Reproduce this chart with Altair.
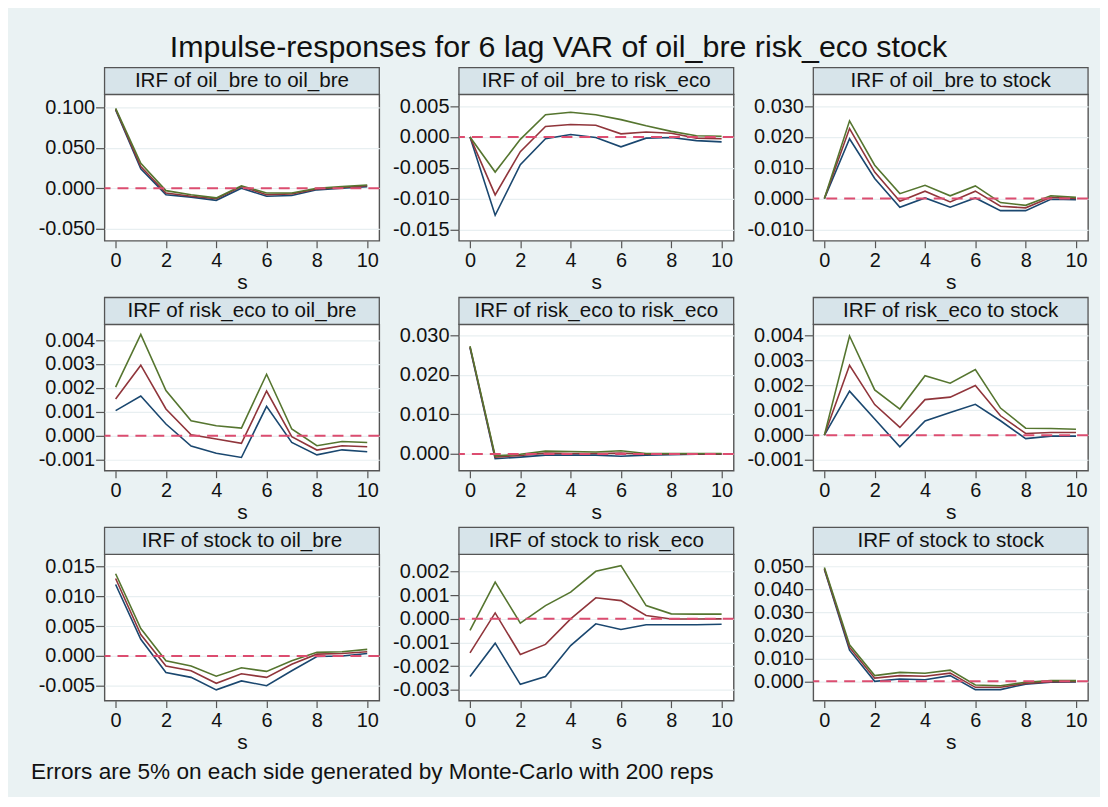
import altair as alt
import pandas as pd

steps = list(range(11))
bands = ["lower", "irf", "upper"]
band_colors = ["#1a476f", "#90353b", "#55752f"]

# IRF of oil_bre to oil_bre
p1_lo = [0.097, 0.024, -0.008, -0.011, -0.015, 0.000, -0.010, -0.009, -0.002, 0.000, 0.002]
p1_irf = [0.098, 0.027, -0.006, -0.010, -0.013, 0.002, -0.008, -0.007, -0.001, 0.001, 0.003]
p1_hi = [0.099, 0.031, -0.003, -0.008, -0.012, 0.003, -0.006, -0.006, 0.000, 0.002, 0.004]
# IRF of oil_bre to risk_eco
p2_lo = [0, -0.0127, -0.0045, -0.0003, 0.0004, -0.0001, -0.0016, -0.0002, -0.0001, -0.0006, -0.0008]
p2_irf = [0, -0.0094, -0.0024, 0.0017, 0.0020, 0.0019, 0.0005, 0.0008, 0.0006, -0.0002, -0.0003]
p2_hi = [0, -0.0057, -0.0004, 0.0036, 0.0040, 0.0036, 0.0028, 0.0018, 0.0009, 0.0002, 0.0001]
# IRF of oil_bre to stock
p3_lo = [0, 0.0194, 0.0065, -0.0028, 0.0002, -0.0028, 0.0002, -0.0039, -0.0039, -0.0002, -0.0004]
p3_irf = [0, 0.0227, 0.0086, -0.0009, 0.0024, -0.0011, 0.0024, -0.0025, -0.0030, 0.0004, 0.0000]
p3_hi = [0, 0.0252, 0.0108, 0.0016, 0.0043, 0.0009, 0.0041, -0.0013, -0.0022, 0.0009, 0.0004]
# IRF of risk_eco to oil_bre
p4_lo = [0.00105, 0.00166, 0.00049, -0.00043, -0.00073, -0.00091, 0.00123, -0.00028, -0.00080, -0.00059, -0.00067]
p4_irf = [0.00154, 0.00295, 0.00112, 0.00004, -0.00014, -0.00032, 0.00187, -0.00004, -0.00060, -0.00042, -0.00046]
p4_hi = [0.00203, 0.00424, 0.00189, 0.00063, 0.00042, 0.00032, 0.00257, 0.00028, -0.00042, -0.00024, -0.00028]
# IRF of risk_eco to risk_eco
p5_lo = [0.0268, -0.0012, -0.0008, -0.0003, -0.0003, -0.0003, -0.0006, -0.0003, -0.0002, -0.0001, -0.0001]
p5_irf = [0.0270, -0.0008, -0.0004, 0.0002, 0.0001, 0.0001, 0.0002, -0.0001, 0.0000, 0.0000, 0.0000]
p5_hi = [0.0272, -0.0005, -0.0001, 0.0007, 0.0006, 0.0005, 0.0008, 0.0001, 0.0001, 0.0001, 0.0001]
# IRF of risk_eco to stock
p6_lo = [0, 0.00177, 0.00065, -0.00047, 0.00057, 0.00091, 0.00124, 0.00058, -0.00014, -0.00004, -0.00004]
p6_irf = [0, 0.00281, 0.00123, 0.00031, 0.00143, 0.00153, 0.00200, 0.00078, 0.00007, 0.00011, 0.00011]
p6_hi = [0, 0.00399, 0.00182, 0.00105, 0.00239, 0.00209, 0.00264, 0.00109, 0.00028, 0.00027, 0.00024]
# IRF of stock to oil_bre
p7_lo = [0.0120, 0.0028, -0.0028, -0.0036, -0.0057, -0.0042, -0.0050, -0.0025, -0.0001, 0.0000, 0.0004]
p7_irf = [0.0130, 0.0036, -0.0017, -0.0025, -0.0046, -0.0030, -0.0036, -0.0014, 0.0003, 0.0004, 0.0007]
p7_hi = [0.0138, 0.0046, -0.0008, -0.0017, -0.0034, -0.0020, -0.0026, -0.0008, 0.0006, 0.0007, 0.0011]
# IRF of stock to risk_eco
p8_lo = [-0.00244, -0.00103, -0.00277, -0.00244, -0.00113, -0.00021, -0.00045, -0.00025, -0.00025, -0.00025, -0.00023]
p8_irf = [-0.00144, 0.00025, -0.00151, -0.00108, 0.00000, 0.00089, 0.00077, 0.00014, -0.00001, -0.00001, 0.00000]
p8_hi = [-0.00049, 0.00155, -0.00018, 0.00056, 0.00113, 0.00201, 0.00225, 0.00056, 0.00021, 0.00020, 0.00020]
# IRF of stock to stock
p9_lo = [0.0487, 0.0136, 0.0000, 0.0010, 0.0007, 0.0025, -0.0036, -0.0036, -0.0012, -0.0004, -0.0003]
p9_irf = [0.0491, 0.0148, 0.0014, 0.0025, 0.0022, 0.0036, -0.0026, -0.0026, -0.0009, -0.0001, 0.0000]
p9_hi = [0.0496, 0.0159, 0.0025, 0.0039, 0.0035, 0.0049, -0.0016, -0.0019, -0.0004, 0.0003, 0.0003]

titles = [
    "IRF of oil_bre to oil_bre", "IRF of oil_bre to risk_eco", "IRF of oil_bre to stock",
    "IRF of risk_eco to oil_bre", "IRF of risk_eco to risk_eco", "IRF of risk_eco to stock",
    "IRF of stock to oil_bre", "IRF of stock to risk_eco", "IRF of stock to stock",
]
y_domains = [
    [-0.0651, 0.1163], [-0.01683, 0.00689], [-0.01367, 0.03377],
    [-0.001462, 0.004658], [-0.00423, 0.0327], [-0.00143, 0.00446],
    [-0.00751, 0.01707], [-0.00346, 0.00273], [-0.0084, 0.05536],
]
y_ticks = [
    [-0.05, 0, 0.05, 0.1], [-0.015, -0.01, -0.005, 0, 0.005], [-0.01, 0, 0.01, 0.02, 0.03],
    [-0.001, 0, 0.001, 0.002, 0.003, 0.004], [0, 0.01, 0.02, 0.03], [-0.001, 0, 0.001, 0.002, 0.003, 0.004],
    [-0.005, 0, 0.005, 0.01, 0.015], [-0.003, -0.002, -0.001, 0, 0.001, 0.002], [0, 0.01, 0.02, 0.03, 0.04, 0.05],
]
x_ticks = [0, 2, 4, 6, 8, 10]
main_title = "Impulse-responses for 6 lag VAR of oil_bre risk_eco stock"
footer = "Errors are 5% on each side generated by Monte-Carlo with 200 reps"

series = [
    (p1_lo, p1_irf, p1_hi), (p2_lo, p2_irf, p2_hi), (p3_lo, p3_irf, p3_hi),
    (p4_lo, p4_irf, p4_hi), (p5_lo, p5_irf, p5_hi), (p6_lo, p6_irf, p6_hi),
    (p7_lo, p7_irf, p7_hi), (p8_lo, p8_irf, p8_hi), (p9_lo, p9_irf, p9_hi),
]

W, H = 276, 147
FONT = "Liberation Sans"
one = pd.DataFrame({"k": [0]})


def panel(i):
    lo, irf, hi = series[i]
    df = pd.DataFrame({
        "s": steps * 3,
        "value": lo + irf + hi,
        "band": ["lower"] * 11 + ["irf"] * 11 + ["upper"] * 11,
    })
    lines = alt.Chart(df).mark_line(strokeWidth=1.6).encode(
        x=alt.X("s:Q", scale=alt.Scale(domain=[-0.44, 10.48], nice=False, zero=False),
                axis=alt.Axis(values=x_ticks, tickCount=20, title="s", format="d",
                              labelOverlap=False, labelFlush=False)),
        y=alt.Y("value:Q", scale=alt.Scale(domain=y_domains[i], nice=False, zero=False),
                axis=alt.Axis(values=y_ticks[i], tickCount=20, title=None, labelOverlap=False,
                              labelFlush=False, labelBound=False,
                              labelExpr="replace(format(datum.value, '.3f'), '\u2212', '-')")),
        color=alt.Color("band:N", scale=alt.Scale(domain=bands, range=band_colors), legend=None),
        detail="band:N",
    )
    zero = alt.Chart(one).mark_rule(strokeDash=[11, 7], color="#dc4d70", strokeWidth=2).encode(
        y=alt.datum(0.0)
    )
    head_box = alt.Chart(one).mark_rect(fill="#d7e4ea", stroke="#555555", strokeWidth=1.3).encode(
        x=alt.value(0), x2=alt.value(W), y=alt.value(-27), y2=alt.value(0)
    )
    head_txt = alt.Chart(one).mark_text(font=FONT, fontSize=20.7, color="#111111",
                                        align="center", baseline="middle").encode(
        x=alt.value(W / 2), y=alt.value(-13), text=alt.value(titles[i])
    )
    layers = [lines, zero, head_box, head_txt]
    if i == 1:
        layers.append(alt.Chart(one).mark_text(font=FONT, fontSize=30.5, color="#111111",
                                               align="center", baseline="middle").encode(
            x=alt.value(100), y=alt.value(-47), text=alt.value(main_title)))
    if i == 6:
        layers.append(alt.Chart(one).mark_text(font=FONT, fontSize=22.7, color="#111111",
                                               align="left", baseline="middle").encode(
            x=alt.value(-74), y=alt.value(219), text=alt.value(footer)))
    return alt.layer(*layers).properties(width=W, height=H)


chart = alt.concat(
    *[panel(i) for i in range(9)], columns=3,
    spacing=alt.RowColnumber(row=84, column=80), bounds="flush"
).properties(
    padding={"left": 22, "top": 22, "right": 10, "bottom": 10}
).configure(
    background="#eaf2f3", font=FONT
).configure_view(
    fill="white", stroke="#555555", strokeWidth=1.4
).configure_axis(
    grid=True, gridColor="#e8eff1", gridWidth=1.2, domain=False,
    tickColor="#555555", tickWidth=1.2,
    labelFont=FONT, labelFontSize=20, labelColor="#111111",
    titleFont=FONT, titleFontSize=21, titleFontWeight="normal", titleColor="#111111",
).configure_axisX(
    grid=False, tickSize=7, labelPadding=3, titlePadding=1
).configure_axisY(
    tickSize=9, labelPadding=1
)

chart.save("out.html", embed_options={"renderer": "svg", "actions": False})
